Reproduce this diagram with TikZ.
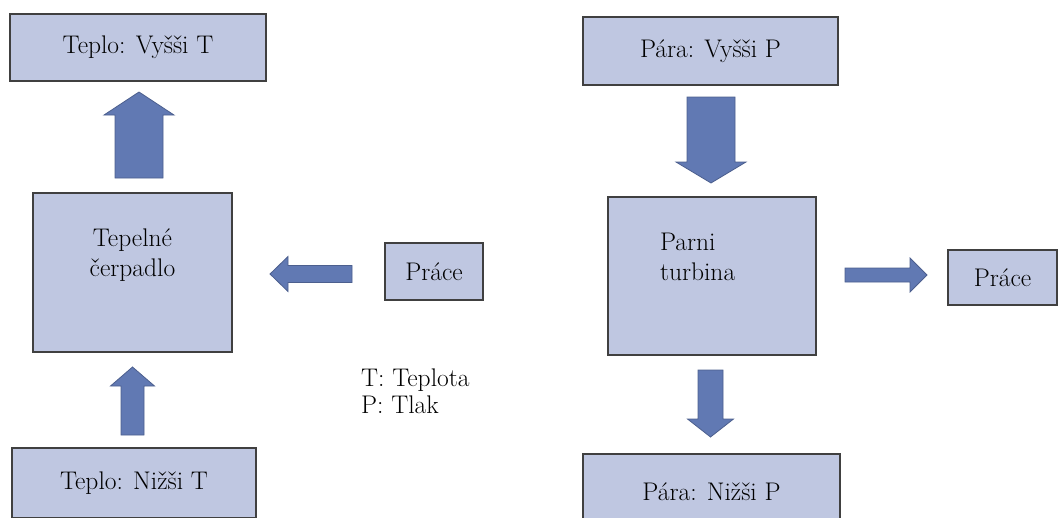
\documentclass[tikz,border=0pt]{standalone}
\usepackage{tikz}

\definecolor{boxfill}{HTML}{BFC7E1}
\definecolor{boxline}{HTML}{404040}
\definecolor{arrowfill}{HTML}{6179B3}
\definecolor{arrowline}{HTML}{4C5F8E}

% block arrow: base, angle, length, shaft width, head width, head length
\newcommand{\fatarrow}[6]{%
  \begin{scope}[shift={(#1)}, rotate=#2]
    \filldraw[fat] (0,-#4/2) -- (#3-#6,-#4/2) -- (#3-#6,-#5/2) -- (#3,0)
      -- (#3-#6,#5/2) -- (#3-#6,#4/2) -- (0,#4/2) -- cycle;
  \end{scope}}

\begin{document}
\begin{tikzpicture}[
        x=1pt, y=-1pt,
        block/.style={draw=boxline, line width=1.6pt, fill=boxfill, inner sep=0pt,
            font=\fontsize{25.5}{30}\selectfont},
        fat/.style={fill=arrowfill, draw=arrowline, line width=0.8pt}
        ]
        \useasboundingbox (0,0) rectangle (1060,517);
        \clip (0,0) rectangle (1060,517);

        % Nodes
        \node[block, minimum width=256pt, minimum height=67pt] (hotT) at (138,47.5) {Teplo: Vyšši T};
        \node[block, minimum width=199pt, minimum height=159pt, align=center] (pump) at (132.5,272.5) {Tepelné\\čerpadlo\\\strut};
        \node[block, minimum width=244pt, minimum height=70pt] (coldT) at (134,483) {Teplo: Nižši T};
        \node[block, minimum width=98pt, minimum height=57pt] (work1) at (434,271.5) {Práce};
        \node[align=left, anchor=west, inner sep=0pt, font=\fontsize{25.5}{27}\selectfont] (legend) at (361,391.5) {T: Teplota\\P: Tlak};

        \node[block, minimum width=255pt, minimum height=68pt] (steamhi) at (710.5,51) {Pára: Vyšši P};
        \node[block, minimum width=208pt, minimum height=158pt, text width=104pt, align=left] (turbine) at (712,276) {Parni\\turbina\\\strut};
        \node[block, minimum width=109pt, minimum height=55pt] (work2) at (1002.5,277.5) {Práce};
        \node[block, minimum width=257pt, minimum height=76pt] (steamlo) at (711.5,492) {Pára: Nižši P};

        % Arrows
        \coordinate (pumpup) at (139,178);
        \coordinate (coldup) at (132.5,435);
        \coordinate (workin) at (352,274);
        \coordinate (steamin) at (711,97);
        \coordinate (workout) at (845,275);
        \coordinate (steamout) at (710.5,370);
        \fatarrow{pumpup}{90}{86}{48}{70}{23}
        \fatarrow{coldup}{90}{68}{23}{44}{19}
        \fatarrow{workin}{180}{82}{17}{35}{18}
        \fatarrow{steamin}{-90}{86}{48}{70}{21}
        \fatarrow{workout}{0}{82}{14}{34}{17}
        \fatarrow{steamout}{-90}{67}{25}{46}{18}
    \end{tikzpicture}
\end{document}
